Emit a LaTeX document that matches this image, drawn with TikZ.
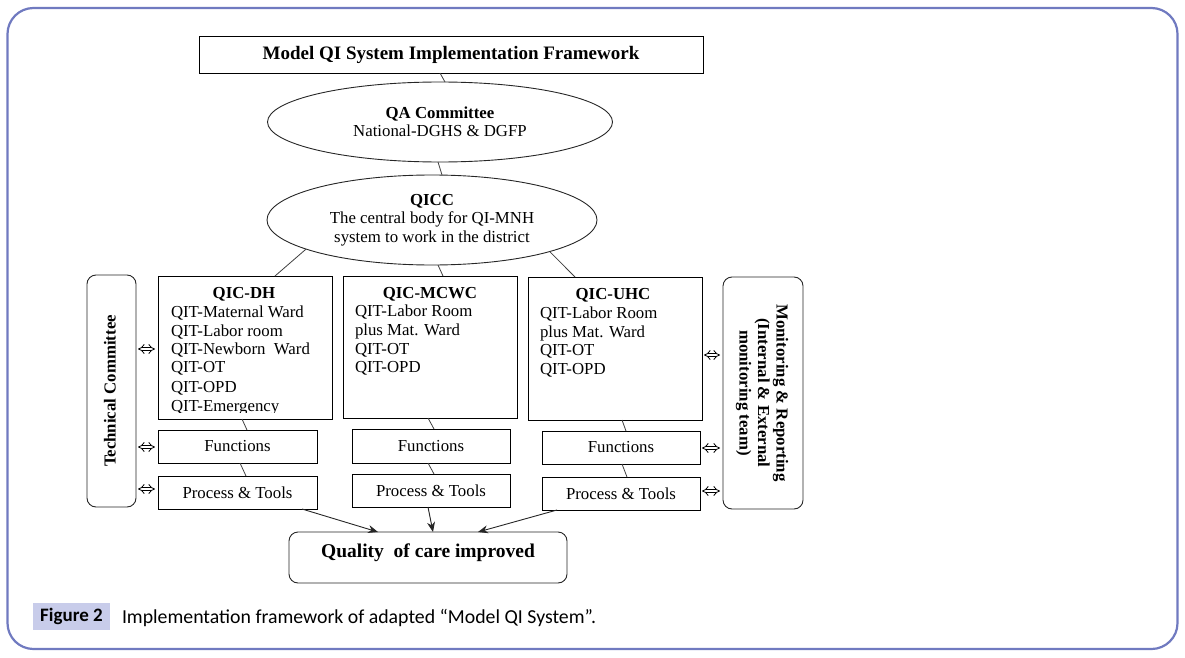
\documentclass[tikz,border=0pt]{standalone}
\usepackage{fontspec}
\setmainfont{Liberation Serif}
\newfontfamily\capfont{Carlito}
\usetikzlibrary{shapes.geometric,arrows.meta,calc}
\definecolor{frameblue}{RGB}{112,122,192}
\definecolor{figfill}{RGB}{200,204,234}
\newcommand\bodyf{\fontsize{16.8}{18.5}\selectfont}
\newcommand\titlef{\bfseries\fontsize{19}{22}\selectfont}
\begin{document}
\begin{tikzpicture}[x=1pt,y=-1pt,
  every node/.style={inner sep=0pt, outer sep=0pt},
  box/.style={draw=black, line width=0.9pt, anchor=north west, font=\bodyf},
  rbox/.style={draw=black!85, line width=0.9pt, rounded corners=9pt, anchor=north west},
  oval/.style={draw=black!85, line width=0.9pt, ellipse, align=center, font=\bodyf},
  lst/.style={anchor=base west, font=\bodyf},
  hd/.style={anchor=base, font=\bodyf\bfseries},
  link/.style={draw=black!75, line width=0.8pt},
  arr/.style={draw=black!85, line width=0.9pt, -{Stealth[length=10pt,width=8pt]}},
  dbl/.style={draw=black, line width=0.8pt, double=white, double distance=2.6pt, {Implies}-{Implies}, shorten <=2pt, shorten >=3pt}
]
\useasboundingbox (0,0) rectangle (1185,658);
% outer frame
\draw[draw=frameblue, line width=2.2pt, rounded corners=26pt] (7.5,8) rectangle (1177.5,649);

% top
\node[box, minimum width=504pt, minimum height=37pt, font=\titlef] (title) at (199,36) {Model QI System Implementation Framework};
\node[oval, minimum width=345pt, minimum height=80pt] (qa) at (440,122) {\textbf{QA Committee}\\National-DGHS \& DGFP};
\node[oval, minimum width=330pt, minimum height=90pt] (qicc) at (432,220) {\textbf{QICC}\\The central body for QI-MNH\\system to work in the district};

% committee boxes
\node[box, minimum width=174pt, minimum height=143pt] (dh) at (158,276) {};
\node[box, minimum width=174pt, minimum height=142pt] (mc) at (343,276) {};
\node[box, minimum width=174pt, minimum height=143pt] (uh) at (528,277) {};

\node[hd] (dht) at (244,298.5) {QIC-DH};
\begin{scope}
\clip (158,276) rectangle (332,412.5);
\foreach \ypos/\ytext [count=\i] in {317/QIT-Maternal Ward, 336/QIT-Labor room, 354.5/QIT-Newborn\ \ Ward, 372.5/QIT-OT, 392.5/QIT-OPD, 411/QIT-Emergency}
  \node[lst] (dh\i) at (171,\ypos) {\ytext};
\end{scope}

\node[hd] (mct) at (430,298.5) {QIC-MCWC};
\foreach \ypos/\ytext [count=\i] in {316.5/QIT-Labor Room, 335.5/plus Mat. Ward, 354.5/QIT-OT, 372.5/QIT-OPD}
  \node[lst] (mc\i) at (355,\ypos) {\ytext};

\node[hd] (uht) at (613,299.5) {QIC-UHC};
\foreach \ypos/\ytext [count=\i] in {318/QIT-Labor Room, 337/plus Mat. Ward, 355.5/QIT-OT, 374/QIT-OPD}
  \node[lst] (uh\i) at (540,\ypos) {\ytext};

% functions / process
\node[box, minimum width=159pt, minimum height=33pt] (dhf) at (158,430) {Functions};
\node[box, minimum width=158pt, minimum height=34pt] (mcf) at (352,429) {Functions};
\node[box, minimum width=158pt, minimum height=33pt] (uhf) at (542,431) {Functions};
\node[box, minimum width=159pt, minimum height=33pt] (dhp) at (158,476) {Process \& Tools};
\node[box, minimum width=158pt, minimum height=33pt] (mcp) at (352,474) {Process \& Tools};
\node[box, minimum width=158pt, minimum height=33pt] (uhp) at (542,477) {Process \& Tools};

% side boxes
\node[rbox, minimum width=49pt, minimum height=232pt] (tc) at (87,275) {};
\node[rotate=90, font=\bodyf\bfseries] (tct) at (110,391) {Technical Committee};
\node[rbox, minimum width=80pt, minimum height=232pt] (mon) at (723,277) {};
\node[rotate=-90, align=center, font=\bodyf\bfseries] (mont) at (762,393) {Monitoring \& Reporting\\(Internal \& External\\monitoring team)};

% result
\node[rbox, minimum width=278pt, minimum height=51pt] (qual) at (289,532) {};
\node[anchor=base, font=\bfseries\fontsize{19.5}{22}\selectfont] (qualt) at (428,557) {Quality\ \ of care improved};

% caption
\node[fill=figfill, anchor=north west, minimum width=77pt, minimum height=27pt, font=\capfont\bfseries\fontsize{19}{22}\selectfont] (fig) at (33,603) {Figure 2};
\node[anchor=base west, font=\capfont\fontsize{19.8}{22}\selectfont] (cap) at (122,623.5) {Implementation framework of adapted “Model QI System”.};

% connectors
\draw[link] ([xshift=-11pt]title.south) -- ([xshift=5pt]qa.north);
\draw[link] ([xshift=-2pt]qa.south) -- ([xshift=10pt]qicc.north);
\draw[link] (qicc.-167) -- ([xshift=30pt]dh.north);
\draw[link] ([xshift=6pt]qicc.south) -- ([xshift=13pt]mc.north);
\draw[link] (qicc.-15) -- ([xshift=-40pt]uh.north);

\draw[link] ([xshift=-3pt]dh.south) -- ([xshift=9.5pt]dhf.north);
\draw[link] ([xshift=2.5pt]dhf.south) -- ([xshift=8.5pt]dhp.north);
\draw[link] ([xshift=-2pt]mc.south) -- ([xshift=3pt]mcf.north);
\draw[link] ([xshift=-3pt]mcf.south) -- ([xshift=3pt]mcp.north);
\draw[link] ([xshift=7pt]uh.south) -- ([xshift=5pt]uhf.north);
\draw[link] ([xshift=1pt]uhf.south) -- ([xshift=6pt]uhp.north);

\draw[arr] ([xshift=64.5pt]dhp.south) -- ([xshift=-50pt]qual.north);
\draw[arr] ([xshift=-3pt]mcp.south) -- ([xshift=5pt]qual.north);
\draw[arr] ([xshift=-64pt]uhp.south) -- ([xshift=50pt]qual.north);

% double arrows
\draw[dbl] ([yshift=-1.5pt]tc.east |- dh.west) -- ([yshift=-1.5pt]dh.west);
\draw[dbl] ([yshift=-0.5pt]tc.east |- dhf.west) -- ([yshift=-0.5pt]dhf.west);
\draw[dbl] ([yshift=3.5pt]tc.east |- dhp.west) -- ([yshift=3.5pt]dhp.west);
\draw[dbl] ([yshift=-6.5pt]uh.east) -- ([yshift=-6.5pt]mon.west |- uh.east);
\draw[dbl] ([yshift=-0.5pt]uhf.east) -- ([yshift=-0.5pt]mon.west |- uhf.east);
\draw[dbl] ([yshift=2.5pt]uhp.east) -- ([yshift=2.5pt]mon.west |- uhp.east);
\end{tikzpicture}
\end{document}
